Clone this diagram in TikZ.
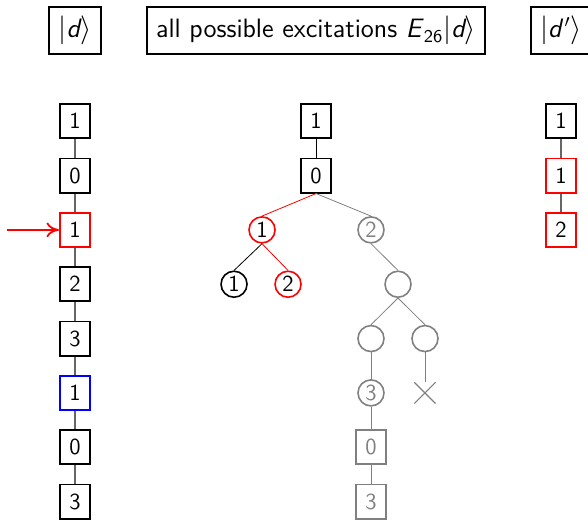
\documentclass[tikz,border=0pt]{standalone}
\usepackage{tikz}
\usetikzlibrary{arrows.meta,shapes.misc}
\renewcommand{\familydefault}{\sfdefault}
\tikzset{
  digbox/.style={draw, line width=0.9pt, minimum width=15.1pt, minimum height=17.1pt, inner sep=0pt, font=\fontsize{11.5}{13}\selectfont},
  digcirc/.style={draw, circle, line width=0.8pt, minimum size=13pt, inner sep=0pt, font=\fontsize{11.5}{13}\selectfont},
  lblbox/.style={draw, line width=0.9pt, inner sep=4.7pt, font=\fontsize{13.3}{15}\selectfont},
  crossmk/.style={draw=gray, cross out, line width=0.6pt, minimum size=10pt, inner sep=0pt},
  faded/.style={draw=gray, text=gray},
  chainln/.style={line width=0.6pt, black!60},
  treeln/.style={line width=0.4pt},
  markarr/.style={-{To[length=2.2mm,width=2.6mm]}, line width=0.9pt, red},
}
\newcommand{\sket}[1]{\ensuremath{|\textit{#1}\rangle}}

\begin{document}
\begin{tikzpicture}
    \useasboundingbox (0,0) rectangle (10.334,-9.139);
    \clip (0,0) rectangle (10.334,-9.139);
    % headings
    \node[lblbox] (hd) at (1.318,-0.536) {\sket{d}};
    \node[lblbox] (hexc) at (5.554,-0.536) {all possible excitations \textit{E}$_{\mathsf{26}}$\sket{d}};
    \node[lblbox] (hdp) at (9.86,-0.536) {$|\textit{d}\mkern2mu'\rangle$};
    % determinant d
    \node[digbox] (l1) at (1.318,-2.13) {1};
    \node[digbox] (l2) at (1.318,-3.085) {0};
    \node[digbox, draw=red] (l3) at (1.318,-4.04) {1};
    \node[digbox] (l4) at (1.318,-4.995) {2};
    \node[digbox] (l5) at (1.318,-5.95) {3};
    \node[digbox, draw=blue] (l6) at (1.318,-6.905) {1};
    \node[digbox] (l7) at (1.318,-7.86) {0};
    \node[digbox] (l8) at (1.318,-8.815) {3};
    \draw[chainln] (l1) -- (l2) (l2) -- (l3) (l3) -- (l4) (l4) -- (l5)
      (l5) -- (l6) (l6) -- (l7) (l7) -- (l8);
    \coordinate (arrtail) at (0.123,-4.04);
    \draw[markarr] (arrtail) -- (l3);
    % tree of excitations
    \node[digbox] (t1) at (5.554,-2.13) {1};
    \node[digbox] (t0) at (5.554,-3.085) {0};
    \node[digcirc, draw=red] (ta) at (4.605,-4.04) {1};
    \node[digcirc, faded] (tb) at (6.52,-4.04) {2};
    \node[digcirc] (taa) at (4.113,-4.995) {1};
    \node[digcirc, draw=red] (tab) at (5.062,-4.995) {2};
    \node[digcirc, faded] (tbb) at (6.995,-4.995) {};
    \node[digcirc, faded] (tbba) at (6.52,-5.95) {};
    \node[digcirc, faded] (tbbb) at (7.469,-5.95) {};
    \node[digcirc, faded] (tx3) at (6.52,-6.905) {3};
    \node[crossmk] (tno) at (7.469,-6.905) {};
    \node[digbox, faded] (ty0) at (6.52,-7.86) {0};
    \node[digbox, faded] (ty3) at (6.52,-8.815) {3};
    \draw[treeln] (t1) -- (t0);
    \draw[treeln, red] (t0.south) -- (ta.north);
    \draw[treeln, gray] (t0.south) -- (tb.north);
    \draw[treeln] (ta.south) -- (taa.north);
    \draw[treeln, red] (ta.south) -- (tab.north);
    \draw[treeln, gray] (tb.south) -- (tbb.north);
    \draw[treeln, gray] (tbb.south) -- (tbba.north);
    \draw[treeln, gray] (tbb.south) -- (tbbb.north);
    \draw[treeln, gray] (tbba) -- (tx3) (tbbb) -- (tno) (tx3) -- (ty0) (ty0) -- (ty3);
    % determinant d'
    \node[digbox] (r1) at (9.86,-2.13) {1};
    \node[digbox, draw=red] (r2) at (9.86,-3.085) {1};
    \node[digbox, draw=red] (r3) at (9.86,-4.04) {2};
    \draw[chainln] (r1) -- (r2) (r2) -- (r3);
\end{tikzpicture}
\end{document}
